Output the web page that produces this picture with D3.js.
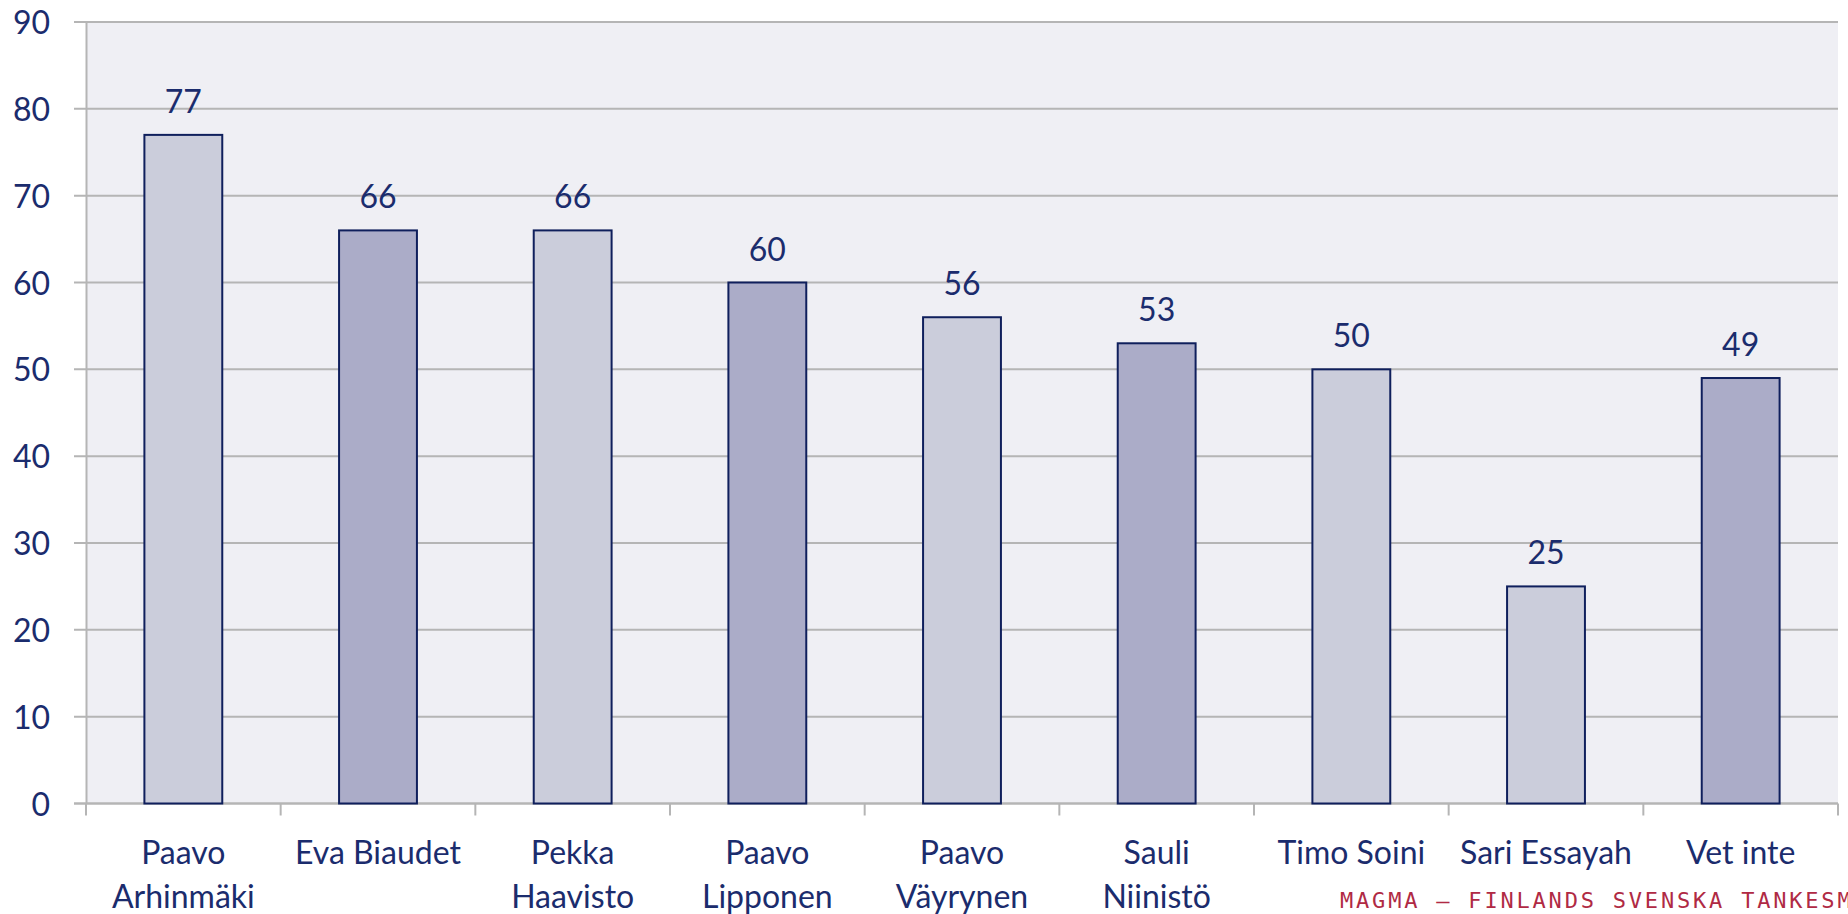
<!DOCTYPE html>
<html>
<head>
<meta charset="utf-8">
<script src="https://cdn.jsdelivr.net/npm/d3@7"></script>
<style>
  body { margin: 0; background: #fff; }
  svg { display: block; }
</style>
</head>
<body>
<script>
const w = 1848;
const h = 914;
const plotLeft = 86;
const plotRight = 1838;
const plotTop = 22;
const plotBottom = 803.5;

const names = [
  "Paavo\nArhinmäki",
  "Eva Biaudet",
  "Pekka\nHaavisto",
  "Paavo\nLipponen",
  "Paavo\nVäyrynen",
  "Sauli\nNiinistö",
  "Timo Soini",
  "Sari Essayah",
  "Vet inte",
];
const values = [77, 66, 66, 60, 56, 53, 50, 25, 49];
const yTicks = [0, 10, 20, 30, 40, 50, 60, 70, 80, 90];
const footer = "MAGMA – FINLANDS SVENSKA TANKESMEDJA";

// bar tones as in the original (light / dark)
const fills = ["#cbcddb", "#abacc8", "#cbcddb", "#abacc8", "#cbcddb", "#abacc8", "#cbcddb", "#cbcddb", "#abacc8"];

const textColor = "#1b2c6d";
const gridColor = "#b5b5b5";
const font = "Lato, 'Open Sans', sans-serif";

const svg = d3.select("body").append("svg").attr("width", w).attr("height", h);

const x = d3.scaleBand().domain(names).range([plotLeft, plotRight]).padding(0);
const y = d3.scaleLinear().domain([0, 90]).range([plotBottom, plotTop]);
const bw = x.bandwidth();

svg.append("rect")
  .attr("x", plotLeft).attr("y", plotTop)
  .attr("width", plotRight - plotLeft).attr("height", plotBottom - plotTop)
  .attr("fill", "#efeff4");

// gridlines
svg.append("g")
  .selectAll("line")
  .data(yTicks)
  .enter()
  .append("line")
  .attr("x1", plotLeft - 12)
  .attr("x2", plotRight)
  .attr("y1", (d) => y(d))
  .attr("y2", (d) => y(d))
  .attr("stroke", gridColor)
  .attr("stroke-width", 2);

// y axis
const yAxis = d3.axisLeft(y).tickValues(yTicks).tickSize(0).tickPadding(36);
const gy = svg.append("g").attr("transform", `translate(${plotLeft},0)`).call(yAxis);
gy.select(".domain").attr("stroke", gridColor).attr("stroke-width", 2);
gy.selectAll("text")
  .attr("fill", textColor)
  .style("font-family", font)
  .style("font-size", "32px")
  .attr("dy", "0.36em");

// x axis line + ticks at category boundaries
const edges = names.map((d) => x(d)).concat([plotRight]);
svg.append("line")
  .attr("x1", plotLeft - 12).attr("x2", plotRight)
  .attr("y1", plotBottom).attr("y2", plotBottom)
  .attr("stroke", gridColor).attr("stroke-width", 2);
svg.append("g")
  .selectAll("line")
  .data(edges)
  .enter()
  .append("line")
  .attr("x1", (d) => d).attr("x2", (d) => d)
  .attr("y1", plotBottom).attr("y2", plotBottom + 12)
  .attr("stroke", gridColor).attr("stroke-width", 2);

// bars
svg.append("g")
  .selectAll("rect")
  .data(values)
  .enter()
  .append("rect")
  .attr("x", (d, i) => x(names[i]) + bw * 0.3)
  .attr("y", (d) => y(d))
  .attr("width", bw * 0.4)
  .attr("height", (d) => plotBottom - y(d))
  .attr("fill", (d, i) => fills[i])
  .attr("stroke", "#0f1f5c")
  .attr("stroke-width", 2);

// value labels
svg.append("g")
  .selectAll("text")
  .data(values)
  .enter()
  .append("text")
  .attr("x", (d, i) => x(names[i]) + bw / 2)
  .attr("y", (d) => y(d) - 22)
  .attr("text-anchor", "middle")
  .attr("fill", textColor)
  .style("font-family", font)
  .style("font-size", "32px")
  .text((d) => d);

// category labels
const cats = svg.append("g")
  .selectAll("text")
  .data(names)
  .enter()
  .append("text")
  .attr("text-anchor", "middle")
  .attr("fill", textColor)
  .style("font-family", font)
  .style("font-size", "32px");
cats.each(function (d) {
  const t = d3.select(this);
  d.split("\n").forEach((line, i) => {
    t.append("tspan")
      .attr("x", x(d) + bw / 2)
      .attr("y", 864 + i * 44)
      .text(line);
  });
});

svg.append("text")
  .attr("x", 1340)
  .attr("y", 908)
  .attr("fill", "#b02a44")
  .style("font-family", "'DejaVu Sans Mono', monospace")
  .style("font-size", "22px")
  .style("letter-spacing", "2.8px")
  .text(footer);
</script>
</body>
</html>
